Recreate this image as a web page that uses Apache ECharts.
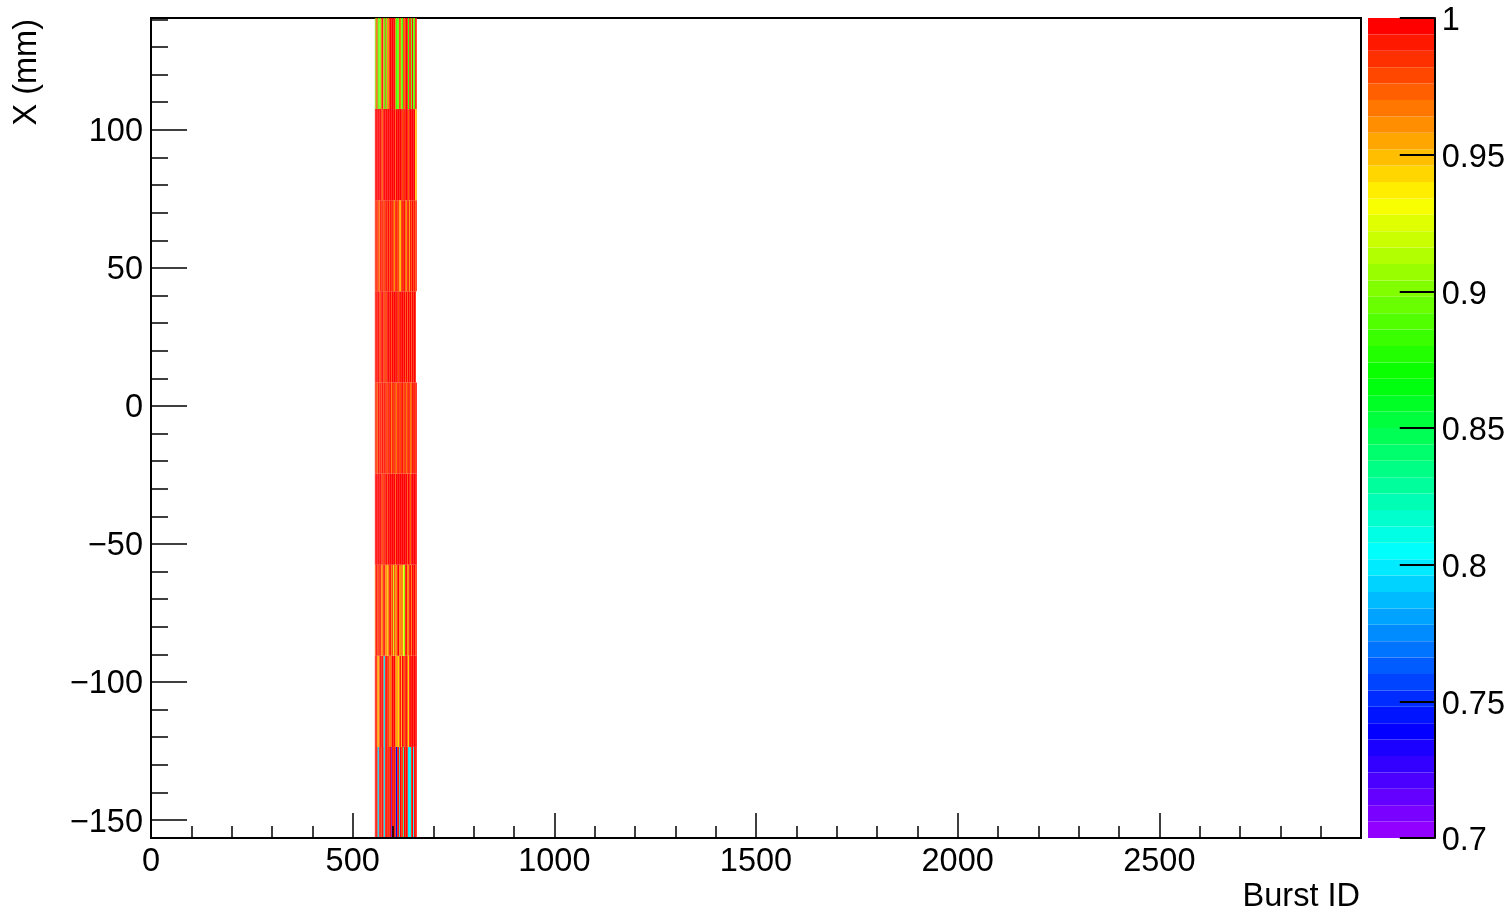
<!DOCTYPE html>
<html><head><meta charset="utf-8">
<script src="https://cdn.jsdelivr.net/npm/echarts@6/dist/echarts.min.js"></script>
<style>html,body{margin:0;padding:0;background:#fff}#c{width:1508px;height:914px}</style>
</head><body><div id="c"></div>
<script>
// ---------- data ----------
// burst-ID bin starts (columns of the 2D histogram), last bin ends at burstEnd
const burstBins = [555,557,560,562,565,567,570,572,575,577,580,582,585,587,590,592,595,597,600,602,
                   605,607,610,612,615,617,620,622,625,627,630,632,635,637,640,642,645,647,650,652,655,657];
const burstEnd = 659;
// X (mm) bin edges of the 9 rows, bottom to top
const xMmEdges = [-156.5,-123.5,-90.5,-57.5,-24.5,8.5,41.5,74.5,107.5,140.5];

// efficiency per row (row0 = bottom row, row8 = top row), one value per burst bin
const row0 = [0.995,0.99,0.995,0.8,0.995,0.99,0.98,0.995,0.99,0.8,0.995,0.99,0.995,0.985,0.99,0.995,0.72,0.99,0.995,0.99,0.98,0.74,0.995,0.99,0.8,0.995,0.99,0.98,0.82,0.995,0.99,0.995,0.99,0.8,0.8,0.81,0.99,0.995,0.8,0.99,0.995,0.99];
const row1 = [0.995,0.99,0.97,0.95,0.965,0.995,0.99,0.995,0.98,0.8,0.995,0.99,0.995,0.98,0.97,0.965,0.97,0.995,0.99,0.995,0.97,0.955,0.965,0.945,0.97,0.99,0.95,0.995,0.99,0.97,0.995,0.99,0.98,0.94,0.995,0.99,0.995,0.998,0.99,0.995,0.998,0.995];
const row2 = [0.965,0.995,0.99,0.98,0.995,0.99,0.965,0.96,0.995,0.99,0.965,0.96,0.95,0.96,0.995,0.99,0.965,0.98,0.92,0.975,0.965,0.96,0.99,0.995,0.965,0.96,0.97,0.96,0.93,0.905,0.995,0.99,0.965,0.96,0.995,0.99,0.965,0.995,0.99,0.995,0.98,0.99];
const row3 = [0.998,0.998,0.998,0.998,0.998,0.998,0.998,0.98,0.998,0.985,0.998,0.998,0.98,0.998,0.998,0.998,0.998,0.998,0.998,0.998,0.975,0.998,0.998,0.998,0.998,0.998,0.998,0.998,0.998,0.998,0.998,0.998,0.98,0.998,0.998,0.975,0.998,0.998,0.998,0.998,0.998,0.998];
const row4 = [0.99,0.985,0.965,0.995,0.985,0.99,0.98,0.995,0.985,0.99,0.995,0.98,0.99,0.985,0.995,0.99,0.965,0.985,0.995,0.98,0.99,0.965,0.995,0.985,0.99,0.98,0.995,0.99,0.985,0.98,0.995,0.965,0.99,0.985,0.995,0.965,0.98,0.99,0.995,0.985,0.99,0.995];
const row5 = [0.995,0.99,0.995,0.998,0.99,0.98,0.995,0.998,0.99,0.98,0.995,0.98,0.998,0.995,0.99,0.998,0.978,0.995,0.99,0.998,0.995,0.99,0.998,0.978,0.995,0.99,0.998,0.995,0.99,0.998,0.98,0.995,0.98,0.998,0.99,0.995,0.978,0.998,0.99,0.995,0.99,null];
const row6 = [0.99,0.985,0.995,0.98,0.96,0.99,0.995,0.985,0.99,0.98,0.995,0.99,0.985,0.995,0.98,0.99,0.995,0.985,0.99,0.96,0.995,0.985,0.99,0.98,0.96,0.95,0.99,0.985,0.995,0.99,0.98,0.96,0.995,0.985,0.96,0.99,0.98,0.995,0.985,0.99,0.98,0.99];
const row7 = [0.998,0.998,0.995,0.998,0.998,0.998,0.998,0.975,0.998,0.998,0.995,0.998,0.998,0.998,0.998,0.998,0.998,0.995,0.998,0.998,0.975,0.998,0.998,0.998,0.998,0.998,0.998,0.98,0.998,0.985,0.998,0.998,0.998,0.975,0.998,0.998,0.998,0.995,0.998,0.998,0.945,0.955];
const row8 = [0.89,0.965,0.99,0.895,0.89,0.9,0.965,0.995,0.96,0.89,0.99,0.895,0.975,0.96,0.99,0.995,0.99,1.0,0.995,0.99,0.965,0.89,0.885,0.9,0.99,0.965,0.895,0.89,0.99,0.965,0.99,0.995,0.99,0.885,0.99,0.98,0.89,0.99,0.895,0.89,0.995,0.985];
const rows = [row0,row1,row2,row3,row4,row5,row6,row7,row8];

// axis ticks / labels
const yMajorTicks = [-150,-100,-50,0,50,100];
const yMinorTicks = [-140,-130,-120,-110,-90,-80,-70,-60,-40,-30,-20,-10,10,20,30,40,60,70,80,90,110,120,130,140];
const zMin = 0.7, zMax = 1.0, nLevels = 50;

// ---------- palette (ROOT "pretty" violet->red palette, 50 levels) ----------
const palette = [];
for (let i = 0; i < nLevels - 1; i++) {
  const h = 280 - (i + 1) * (280 / nLevels);
  palette.push('hsl(' + h.toFixed(2) + ',100%,50%)');
}
palette.push('rgb(255,0,0)');
const dz = (zMax - zMin) / nLevels;
const pieces = palette.map((c, i) => {
  const p = { gte: zMin + i * dz, color: c };
  if (i < nLevels - 1) p.lt = zMin + (i + 1) * dz; else p.lte = zMax + 1e-6;
  return p;
});

// ---------- build series data ----------
const cells = [];
rows.forEach((row, r) => {
  row.forEach((v, c) => {
    if (v === null) return;
    const x0 = burstBins[c], x1 = c + 1 < burstBins.length ? burstBins[c + 1] : burstEnd;
    cells.push([x0, xMmEdges[r], v, x1, xMmEdges[r + 1]]);
  });
});
const barCells = palette.map((c, i) => [0, zMin + i * dz, zMin + (i + 0.5) * dz, 1, zMin + (i + 1) * dz]);

function renderCell(params, api) {
  const p0 = api.coord([api.value(0), api.value(1)]);
  const p1 = api.coord([api.value(3), api.value(4)]);
  return {
    type: 'rect',
    shape: { x: p0[0], y: p1[1], width: p1[0] - p0[0], height: p0[1] - p1[1] },
    style: { fill: api.visual('color') }
  };
}

const FONT = 'Liberation Sans, Arial, Helvetica, sans-serif';
const FS = 32.5;
const minus = v => '{t|' + String(v).replace('-', '\u2212') + '}';
const plainRich = v => '{t|' + String(v) + '}';
const plain = v => String(v);

const chart = echarts.init(document.getElementById('c'), null, { renderer: 'canvas' });
chart.setOption({
  animation: false,
  backgroundColor: '#fff',
  textStyle: { fontFamily: FONT },
  grid: [
    { left: 151, right: 147, top: 18, bottom: 76, show: true, borderColor: '#000', borderWidth: 2, backgroundColor: 'transparent' },
    { left: 1368, right: 73, top: 18, bottom: 76, show: false }
  ],
  visualMap: {
    type: 'piecewise', show: false, dimension: 2, seriesIndex: [0, 1],
    pieces: pieces, outOfRange: { color: 'rgba(0,0,0,0)' }
  },
  xAxis: [
    {
      type: 'value', gridIndex: 0, min: 0, max: 3000, interval: 500, z: 5,
      axisLine: { show: true, onZero: false, lineStyle: { color: '#000', width: 2 } },
      axisTick: { show: true, inside: true, length: 25, lineStyle: { color: '#000', width: 1.5 } },
      minorTick: { show: true, splitNumber: 5, length: 12, lineStyle: { color: '#000', width: 1.5 } },
      axisLabel: { show: true, margin: 8, fontSize: FS, color: '#000', fontFamily: FONT, showMaxLabel: false, formatter: plain },
      splitLine: { show: false }, minorSplitLine: { show: false }
    },
    { type: 'value', gridIndex: 1, min: 0, max: 1, show: false }
  ],
  yAxis: [
    {
      type: 'value', gridIndex: 0, min: -156.5, max: 140.5, z: 5,
      axisLine: { show: true, onZero: false, lineStyle: { color: '#000', width: 2 } },
      axisTick: { show: true, inside: true, length: 36, customValues: yMajorTicks, lineStyle: { color: '#000', width: 1.5 } },
      axisLabel: { show: true, margin: 8, fontSize: FS, color: '#000', fontFamily: FONT, customValues: yMajorTicks, formatter: minus,
        rich: { t: { fontSize: FS, fontFamily: FONT, color: '#000', padding: [5, 0, 0, 0] } } },
      splitLine: { show: false }
    },
    {
      type: 'value', gridIndex: 0, min: -156.5, max: 140.5, z: 5, position: 'left',
      axisLine: { show: false },
      axisTick: { show: true, inside: true, length: 17, customValues: yMinorTicks, lineStyle: { color: '#000', width: 1.5 } },
      axisLabel: { show: false },
      splitLine: { show: false }
    },
    {
      type: 'value', gridIndex: 1, min: zMin, max: zMax, interval: 0.05, position: 'right', z: 5,
      axisLine: { show: true, onZero: false, lineStyle: { color: '#000', width: 2 } },
      axisTick: { show: true, inside: true, length: 35, lineStyle: { color: '#000', width: 2 } },
      axisLabel: { show: true, margin: 7, fontSize: FS, color: '#000', fontFamily: FONT, formatter: plainRich,
        rich: { t: { fontSize: FS, fontFamily: FONT, color: '#000', padding: [7, 0, 0, 0] } } },
      splitLine: { show: false }
    }
  ],
  series: [
    {
      type: 'custom', name: 'efficiency', xAxisIndex: 0, yAxisIndex: 0, clip: true,
      encode: { x: [0, 3], y: [1, 4] },
      renderItem: renderCell, data: cells
    },
    {
      type: 'custom', name: 'palette', xAxisIndex: 1, yAxisIndex: 2,
      encode: { x: [0, 3], y: [1, 4] },
      renderItem: renderCell, data: barCells
    }
  ],
  graphic: [
    { type: 'text', x: 27, y: 19, rotation: Math.PI / 2,
      style: { text: 'X (mm)', font: FS + 'px ' + FONT, fill: '#000', align: 'right', verticalAlign: 'middle' } },
    { type: 'text', x: 1360, y: 897,
      style: { text: 'Burst ID', font: FS + 'px ' + FONT, fill: '#000', align: 'right', verticalAlign: 'middle' } }
  ]
});
</script></body></html>
